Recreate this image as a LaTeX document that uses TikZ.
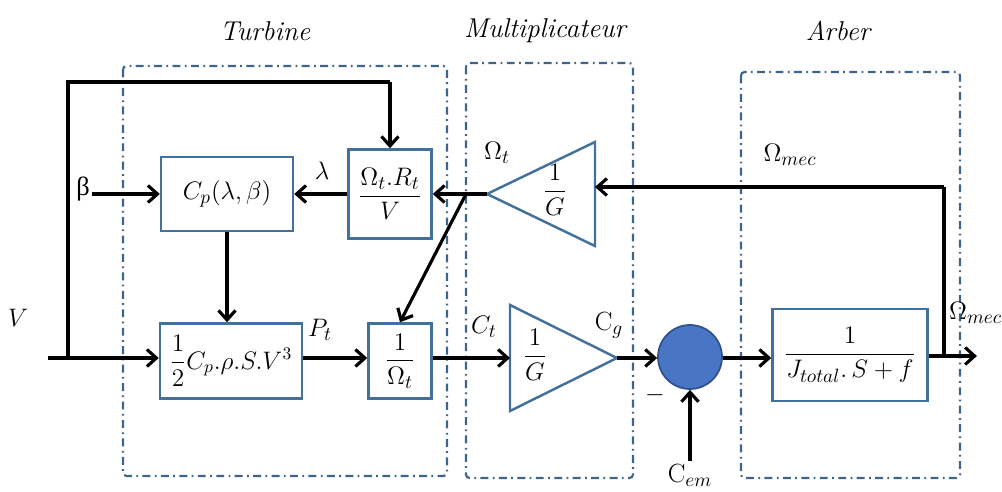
\documentclass[tikz,border=0pt]{standalone}
\usepackage{fontspec}
\usepackage{amsmath}
\newfontfamily\upserif{Liberation Serif}
\usetikzlibrary{arrows.meta}
\definecolor{boxblue}{RGB}{65,113,156}
\definecolor{dashblue}{RGB}{62,100,140}
\definecolor{sumfill}{RGB}{72,118,196}
\definecolor{sumdraw}{RGB}{47,82,143}
\tikzset{
  conn/.style={line width=1.8pt,-{Straight Barb[length=1.9mm,width=3.4mm,line width=1.8pt]}},
  wire/.style={line width=1.8pt},
  blk/.style={draw=boxblue,line width=1.4pt,rectangle,inner sep=0pt,font=\fontsize{15}{18}\selectfont},
  grp/.style={draw=dashblue,line width=1.2pt,rounded corners=2pt,dash pattern=on 4.5pt off 2.5pt on 1pt off 2.5pt},
  tri/.style={draw=boxblue,line width=1.4pt,line join=miter},
  lbl/.style={font=\fontsize{15}{18}\selectfont,inner sep=1pt},
  ttl/.style={font=\fontsize{15.5}{18}\selectfont\itshape,inner sep=1pt}
}
\begin{document}
\begin{tikzpicture}[x=0.02cm,y=-0.02cm]
\useasboundingbox (0,0) rectangle (1002,492);
% group frames
\draw[grp] (123,66) rectangle (447,476);
\draw[grp] (466,63) rectangle (633,478);
\draw[grp] (741,72) rectangle (960,478);
% titles
\node[ttl] (tturb) at (265,31) {Turbine};
\node[ttl] (tmult) at (545,31) {Multiplicateur};
\node[ttl] (tarb) at (838,31) {Arber};
% blocks
\node[blk,minimum width=2.64cm,minimum height=1.48cm] (cp) at (227,194) {$C_p(\lambda,\beta)$};
\node[blk,minimum width=1.66cm,minimum height=1.78cm] (om) at (390,194) {$\dfrac{\Omega_t.R_t}{V}$};
\node[blk,minimum width=2.84cm,minimum height=1.5cm,font=\fontsize{14}{17}\selectfont] (pw) at (231,361) {$\dfrac{1}{2}C_p.\rho.S.V^3$};
\node[blk,minimum width=1.26cm,minimum height=1.5cm] (inv) at (400,361) {$\dfrac{1}{\Omega_t}$};
\node[blk,minimum width=3.1cm,minimum height=1.84cm] (jt) at (850,355) {$\dfrac{1}{J_{total}.\,S+f}$};
\node[circle,draw=sumdraw,fill=sumfill,line width=1pt,minimum size=1.28cm,inner sep=0pt] (sum) at (690,357) {};
% triangles
\draw[tri] (595,142) -- (595,246) -- (487,194) -- cycle;
\coordinate (t1tip) at (487,194);
\coordinate (t1in) at (595,187);
\node[lbl] (t1g) at (555,190) {$\dfrac{1}{G}$};
\draw[tri] (510,305) -- (510,411) -- (617,358) -- cycle;
\coordinate (t2in) at (510,358);
\coordinate (t2tip) at (617,358);
\node[lbl] (t2g) at (535,355) {$\dfrac{1}{G}$};
% input V
\coordinate (vin) at (48,358);
\coordinate (vbr) at (68,358);
\coordinate (vtop) at (68,82);
\coordinate (omtop) at (390,82);
\node[lbl] (vlbl) at (18,318) {$V$};
\draw[conn] (vin) -- (pw.west |- vin);
\draw[wire] (vbr) -- (vtop) -- (omtop);
\draw[conn] (omtop) -- (om.north);
% beta
\node[lbl] (beta) at (83,189) {\upserif β};
\draw[conn] (beta.east |- cp.west) -- (cp.west);
% lambda
\draw[conn] (om.west) -- (cp.east);
\node[lbl] (lam) at (322,171) {$\lambda$};
% Cp down
\draw[conn] (cp.south) -- (cp.south |- pw.north);
% Pt
\draw[conn] (pw.east |- vin) -- (inv.west |- vin);
\node[lbl] (pt) at (320,330) {$P_t$};
% Omega_t
\coordinate (br) at (466,194);
\draw[conn] (t1tip) -- (om.east);
\draw[conn] (br) -- (inv.north);
\node[lbl] (omt) at (497,153) {$\Omega_t$};
% Ct
\draw[conn] (inv.east |- vin) -- (t2in);
\node[lbl] (ct) at (484,327) {$C_t$};
% Cg
\draw[conn] (t2tip) -- (sum.west |- t2tip);
\node[lbl] (cg) at (609,325) {$\mathrm{C}_g$};
% sum to J
\draw[conn] (sum.east |- t2tip) -- (jt.west |- t2tip);
% Cem
\coordinate (cem) at (690,461);
\draw[conn] (cem) -- (sum.south);
\node[lbl] (cemlbl) at (690,475) {$\mathrm{C}_{em}$};
\node[lbl] (minus) at (655,395) {$-$};
% output
\coordinate (out) at (977,356);
\coordinate (obr) at (944,356);
\coordinate (otop) at (944,187);
\draw[conn] (jt.east |- out) -- (out);
\draw[wire] (obr) -- (otop);
\draw[conn] (otop) -- (t1in);
\node[lbl] (omec) at (790,155) {$\Omega_{mec}$};
\node[lbl,anchor=west] (omec2) at (947,313) {$\Omega_{mec}$};
\end{tikzpicture}
\end{document}
